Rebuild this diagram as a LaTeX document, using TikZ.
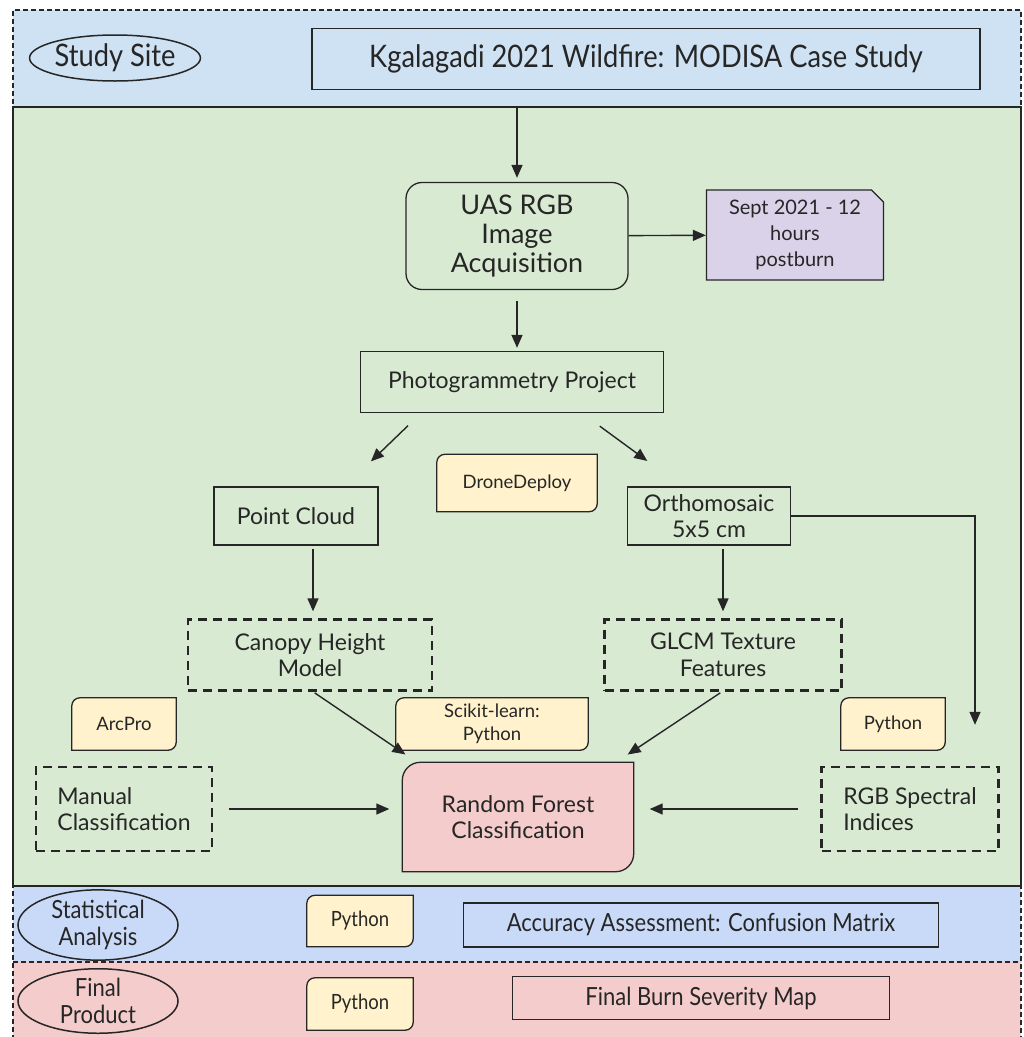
\documentclass[tikz,border=0pt]{standalone}
\usepackage{fontspec}
\setmainfont{Lato}
\newfontfamily\narrowfont[FakeStretch=0.88]{Lato}
\usetikzlibrary{arrows.meta,shapes.geometric,shapes.misc}

\definecolor{siteblue}{HTML}{CFE2F3}
\definecolor{workgreen}{HTML}{D9EAD3}
\definecolor{statblue}{HTML}{C9DAF8}
\definecolor{finalpink}{HTML}{F4CCCC}
\definecolor{tagyellow}{HTML}{FFF2CC}
\definecolor{notepurple}{HTML}{D9D2E9}
\definecolor{edge}{HTML}{262626}

\pgfdeclarelayer{bands}
\pgfdeclarelayer{shapes}
\pgfsetlayers{bands,shapes,main}

% outline with rounded top-left and bottom-right corners
\newcommand{\tagoutline}[3]{%
\draw[draw=edge, line width=1.3pt, fill=#2] (#1.north east) -- ([yshift=#3]#1.south east)
  arc[start angle=0, end angle=-90, radius=#3] -- (#1.south west) -- ([yshift=-#3]#1.north west)
  arc[start angle=180, end angle=90, radius=#3] -- cycle;}

\begin{document}
\begin{tikzpicture}[x=1pt, y=-1pt,
  >={Triangle[length=13pt,width=11pt]},
  every node/.style={align=center, inner sep=0pt, text=black!85},
  box/.style={draw=edge, line width=1.3pt},
  dbox/.style={draw=edge, line width=2.4pt, dash pattern=on 9pt off 6pt},
  oval/.style={ellipse, draw=edge, line width=1.5pt},
  tagtext/.style={font=\fontsize{18.5}{23}\selectfont},
  big/.style={font=\fontsize{27}{29}\selectfont},
  mid/.style={font=\fontsize{23}{26.5}\selectfont},
  small/.style={font=\fontsize{20}{26}\selectfont},
  head/.style={font=\narrowfont\fontsize{31}{34}\selectfont},
  band/.style={font=\narrowfont\fontsize{25}{27}\selectfont},
  bandtag/.style={font=\narrowfont\fontsize{21}{24}\selectfont},
  arrow/.style={->, draw=edge, line width=1.4pt}]
\useasboundingbox (0,0) rectangle (1024,1037);

% bands
\begin{pgfonlayer}{bands}
\fill[siteblue] (13,10) rectangle (1021,107);
\fill[statblue] (13,886) rectangle (1021,962);
\fill[finalpink] (13,962) rectangle (1021,1040);
\draw[edge, line width=1.3pt, dash pattern=on 5pt off 3pt] (13,1040) -- (13,10) -- (1021,10) -- (1021,1040);
\draw[edge, line width=1.3pt, dash pattern=on 5pt off 3pt] (13,962) -- (1021,962);
\draw[edge, line width=1.3pt, fill=workgreen] (13,107) rectangle (1021,886);
\end{pgfonlayer}

% study site
\node[oval, minimum width=156, minimum height=46, head] (site) at (115,58) {Study Site};
\node[box, minimum width=668, minimum height=61, head] (casestudy) at (646,59) {Kgalagadi 2021 Wildfire: MODISA Case Study};

% workflow
\coordinate (entry) at (517,107);
\node[box, rounded corners=16pt, minimum width=222, minimum height=107, big] (uas) at (517,236) {UAS RGB\\Image\\Acquisition};
\node[chamfered rectangle, chamfered rectangle corners=north east, chamfered rectangle xsep=6pt, chamfered rectangle ysep=6pt,
  box, fill=notepurple, minimum width=177, minimum height=90, small] (note) at (795,235) {Sept 2021 - 12\\hours\\postburn};
\node[box, minimum width=303, minimum height=61, mid] (photo) at (512,382) {Photogrammetry Project};
\node[tagtext, minimum width=160, minimum height=57] (dd) at (517,483) {DroneDeploy};
\node[box, minimum width=164, minimum height=58, mid] (pc) at (296,516) {Point Cloud};
\node[box, minimum width=163, minimum height=58, mid] (ortho) at (709,516) {Orthomosaic\\5x5 cm};
\node[dbox, minimum width=244, minimum height=71, mid] (chm) at (310,655) {Canopy Height\\Model};
\node[dbox, minimum width=237, minimum height=71, mid] (glcm) at (723,655) {GLCM Texture\\Features};
\node[tagtext, minimum width=104, minimum height=52] (arcpro) at (124,724) {ArcPro};
\node[tagtext, minimum width=192, minimum height=52] (sklearn) at (492,724) {Scikit-learn:\\Python};
\node[tagtext, minimum width=104, minimum height=52] (pyrgb) at (893,724) {Python};
\node[dbox, minimum width=176, minimum height=84, mid, align=left] (manual) at (124,809) {Manual\\Classification};
\node[mid, minimum width=231, minimum height=109] (rf) at (518,817) {Random Forest\\Classification};
\node[dbox, minimum width=177, minimum height=84, mid, align=left] (rgb) at (910,809) {RGB Spectral\\Indices};

% statistics and product
\node[oval, minimum width=160, minimum height=58, band] (stat) at (98,925) {Statistical\\Analysis};
\node[bandtag, minimum width=106, minimum height=51] (pystat) at (360,921) {Python};
\node[box, minimum width=475, minimum height=44, band] (accuracy) at (701,925) {Accuracy Assessment: Confusion Matrix};
\node[oval, minimum width=160, minimum height=58, band] (final) at (98,1001) {Final\\Product};
\node[bandtag, minimum width=106, minimum height=52] (pyfinal) at (360,1004) {Python};
\node[box, minimum width=377, minimum height=43, band] (burnmap) at (701,998) {Final Burn Severity Map};

\begin{pgfonlayer}{shapes}
\foreach \t in {dd,arcpro,sklearn,pyrgb,pystat,pyfinal}{\tagoutline{\t}{tagyellow}{8pt}}
\tagoutline{rf}{finalpink}{18pt}
\end{pgfonlayer}

% connectors
\draw[arrow, shorten >=4pt] (entry) -- (uas.north);
\draw[arrow] (uas) -- (note);
\draw[arrow, shorten <=11pt, shorten >=3pt] (uas.south) -- (uas.south |- photo.north);
\draw[arrow, shorten <=18pt, shorten >=36pt] ([xshift=-91pt]photo.south) -- ([xshift=49pt]pc.north);
\draw[arrow, shorten <=22pt, shorten >=43pt] ([xshift=70pt]photo.south) -- ([xshift=-27pt]ortho.north);
\draw[arrow, shorten <=3pt, shorten >=7pt] ([xshift=17pt]pc.south) -- ([xshift=3pt]chm.north);
\draw[arrow, shorten <=3pt, shorten >=7pt] ([xshift=14pt]ortho.south) -- (glcm.north);
\draw[arrow, shorten >=41pt] (ortho.east) -| ([xshift=65pt]rgb.north);
\draw[arrow, shorten <=2pt, shorten >=14pt] ([xshift=3pt]chm.south) -- ([xshift=-101pt]rf.north);
\draw[arrow, shorten <=2pt, shorten >=14pt] ([xshift=-1pt]glcm.south) -- ([xshift=98pt]rf.north);
\draw[arrow, shorten <=16pt, shorten >=13pt] (manual.east) -- (manual.east -| rf.west);
\draw[arrow, shorten <=22pt, shorten >=16pt] (rgb.west) -- (rgb.west -| rf.east);
\end{tikzpicture}
\end{document}
